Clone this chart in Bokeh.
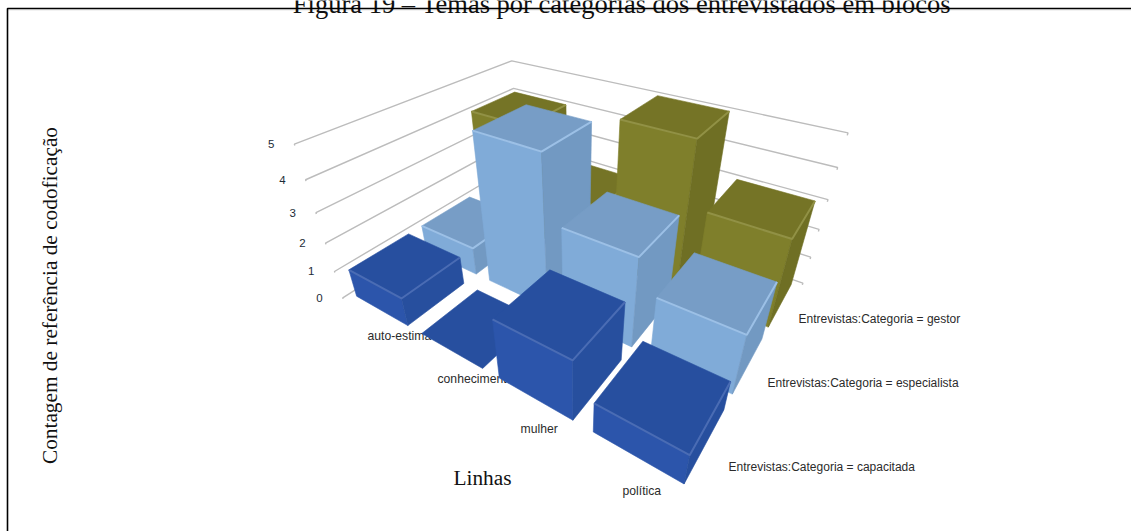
import math

import numpy as np
from bokeh.core.properties import value
from bokeh.embed import file_html
from bokeh.models import Range1d
from bokeh.plotting import figure
from bokeh.resources import INLINE

WIDTH, HEIGHT = 1131, 531

# Chart content
categories = ["auto-estima", "conhecimento", "mulher", "política"]
series_names = [
    "Entrevistas:Categoria = capacitada",
    "Entrevistas:Categoria = especialista",
    "Entrevistas:Categoria = gestor",
]
capacitada = [1, 0, 2, 1]
especialista = [1, 5, 3, 2]
gestor = [4, 2, 5, 3]
value_ticks = [0, 1, 2, 3, 4, 5]

title_text = "Figura 19 – Temas por categorias dos entrevistados em blocos"
y_title = "Contagem de referência de codoficação"
x_title = "Linhas"

# Face shades per series: front, side, top, highlight along the top edges
palette = [
    ("#2c55ab", "#274f9e", "#274f9f", "#4a6cb4"),
    ("#80abd8", "#7299c2", "#779dc6", "#9cc0e6"),
    ("#7f7f2b", "#6f6f24", "#757426", "#919145"),
]

# Perspective camera: (row, depth, value) -> page pixels
CAMERA = np.array([
    [31.456977, 121.01401, -19.782131, 342.264276],
    [10.672172, -15.762023, -35.689045, 297.35696],
    [-0.080527, 0.119316, -0.034376, 1.0],
])
BAR_INSET = 0.1


def project(row, depth, level):
    u, v, w = CAMERA @ np.array([row, depth, level, 1.0])
    return u / w, v / w


def polyline(points):
    xy = [project(*pt) for pt in points]
    return [q[0] for q in xy], [q[1] for q in xy]


p = figure(
    width=WIDTH, height=HEIGHT,
    x_range=Range1d(0, WIDTH), y_range=Range1d(HEIGHT, 0),
    output_backend="svg", toolbar_location=None,
    min_border=0, outline_line_color=None, background_fill_color="white",
)
p.axis.visible = False
p.grid.visible = False

SERIF = value("Liberation Serif")
SANS = value("Liberation Sans")

# Page frame and clipped caption
p.line([WIDTH, 7, 7], [9.5, 9.5, HEIGHT], line_color="#e6e6e6", line_width=1)
p.text([621.5], [3], text=[title_text], text_font=SERIF, text_font_size="26.5px",
       text_align="center", text_baseline="alphabetic", text_color="#111111")
p.line([7, 7, WIDTH], [HEIGHT, 8, 8], line_color="black", line_width=1.6)

# Walls: one bracket of lines per value level, with a small hook at each end
n_rows, n_depths = len(categories), len(series_names)
for level in value_ticks:
    xs, ys = polyline([
        (0, 0, level - 0.04), (0, 0, level), (0, n_depths, level),
        (n_rows, n_depths, level), (n_rows, n_depths, level - 0.07),
    ])
    p.line(xs, ys, line_color="#bcbcbc", line_width=1.4)

# Tick labels follow the left wall
tick_xy = [project(0, 0, level) for level in value_ticks]
p.text([q[0] for q in tick_xy], [q[1] for q in tick_xy],
       text=[str(t) for t in value_ticks], text_font=SANS, text_font_size="11.5px",
       text_align="right", text_baseline="middle", text_color="#1c2c38",
       x_offset=-20, y_offset=0)

# Row and series captions go underneath the bars, which partly cover them
category_left = [367, 437, 520, 622]
category_mid = [335, 378, 428, 490]
p.text(category_left, category_mid, text=categories, text_font=SANS,
       text_font_size="12.2px", text_align="left", text_baseline="middle",
       text_color="#2b2b2b")
series_left = [728, 767, 798]
series_mid = [466, 382, 318]
p.text(series_left, series_mid, text=series_names, text_font=SANS,
       text_font_size="12px", text_align="left", text_baseline="middle",
       text_color="#2b2b2b")

# Bars, painted from the back row towards the viewer
rows_by_series = [capacitada, especialista, gestor]
for depth in reversed(range(n_depths)):
    front, side, top, glow = palette[depth]
    for row, val in enumerate(rows_by_series[depth]):
        x0, x1 = row + BAR_INSET, row + 1 - BAR_INSET
        y0, y1 = depth + BAR_INSET, depth + 1 - BAR_INSET
        faces, colours = [], []
        if val > 0:
            faces.append([(x0, y0, 0), (x1, y0, 0), (x1, y0, val), (x0, y0, val)])
            colours.append(front)
            faces.append([(x1, y0, 0), (x1, y1, 0), (x1, y1, val), (x1, y0, val)])
            colours.append(side)
        faces.append([(x0, y0, val), (x1, y0, val), (x1, y1, val), (x0, y1, val)])
        colours.append(top)
        outlines = [polyline(face) for face in faces]
        p.patches([o[0] for o in outlines], [o[1] for o in outlines],
                  fill_color=colours, line_color=colours, line_width=0.6)
        if val > 0:
            xs, ys = polyline([(x0, y0, val), (x1, y0, val), (x1, y1, val)])
            p.line(xs, ys, line_color=glow, line_width=2)

# Axis titles
p.text([49], [295], text=[y_title], text_font=SERIF, text_font_size="21.3px",
       text_align="center", text_baseline="middle", text_color="#111111",
       angle=math.pi / 2)
p.text([482], [477], text=[x_title], text_font=SERIF, text_font_size="21.3px",
       text_align="center", text_baseline="middle", text_color="#111111")

open("out.html", "w").write(file_html(p, INLINE))
